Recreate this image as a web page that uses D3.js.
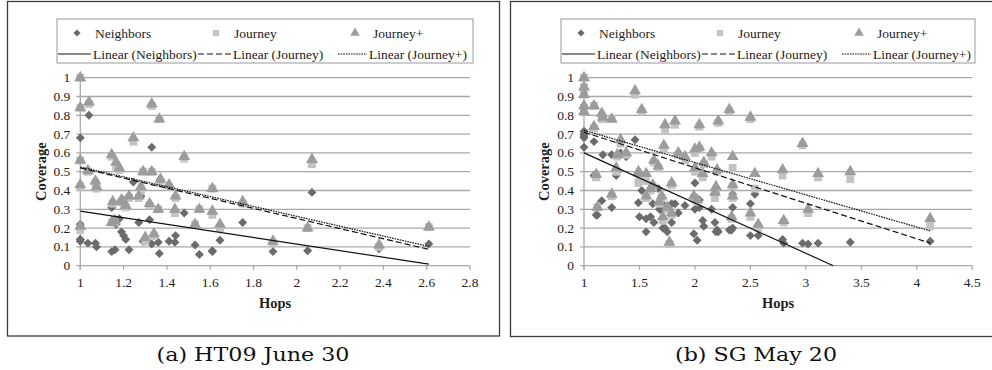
<!DOCTYPE html>
<html>
<head>
<meta charset="utf-8">
<script src="https://cdn.jsdelivr.net/npm/d3@7"></script>
<style>
  body { margin: 0; background: #fff; }
  svg { display: block; }
  svg text { font-family: "Liberation Serif", "Times New Roman", Times, serif; fill: #222; }
  svg text.caption { font-family: "DejaVu Serif", "Liberation Serif", serif; fill: #111; }
</style>
</head>
<body>
<svg id="chart" width="992" height="370"></svg>
<script>
// ----- data -----
const seriesNames = ["Neighbors", "Journey", "Journey+"];
const trendNames = ["Linear (Neighbors)", "Linear (Journey)", "Linear (Journey+)"];
const yTickLabels = ["0", "0.1", "0.2", "0.3", "0.4", "0.5", "0.6", "0.7", "0.8", "0.9", "1"];

// (a) HT09 June 30
const leftXTicks = ["1", "1.2", "1.4", "1.6", "1.8", "2", "2.2", "2.4", "2.6", "2.8"];
const leftHops =         [1.00, 1.00, 1.00, 1.00, 1.00, 1.035, 1.04, 1.07, 1.075, 1.145, 1.145, 1.15, 1.16, 1.165, 1.18, 1.19, 1.20, 1.21, 1.225, 1.245, 1.27, 1.28, 1.29, 1.30, 1.32, 1.33, 1.33, 1.34, 1.36, 1.365, 1.37, 1.41, 1.437, 1.44, 1.48, 1.53, 1.55, 1.61, 1.61, 1.645, 1.75, 1.89, 2.05, 2.07, 2.38, 2.61];
const leftNeighbors =    [0.68, 0.22, 0.14, 0.14, 0.13, 0.12, 0.80, 0.12, 0.10, 0.31, 0.075, 0.24, 0.085, 0.22, 0.25, 0.18, 0.16, 0.14, 0.085, 0.445, 0.23, 0.37, 0.13, 0.13, 0.245, 0.63, 0.115, 0.16, 0.125, 0.065, 0.46, 0.13, 0.125, 0.16, 0.28, 0.11, 0.06, 0.075, 0.08, 0.135, 0.23, 0.075, 0.08, 0.39, 0.09, 0.115];
const leftJourney =      [1.00, 0.84, 0.56, 0.42, 0.19, 0.50, 0.86, 0.44, 0.41, 0.58, 0.23, 0.33, 0.23, 0.53, 0.51, 0.34, 0.33, 0.31, 0.36, 0.66, 0.36, 0.40, 0.50, 0.13, 0.32, 0.85, 0.50, 0.16, 0.30, 0.78, 0.44, 0.42, 0.28, 0.36, 0.57, 0.22, 0.30, 0.41, 0.27, 0.20, 0.33, 0.12, 0.20, 0.54, 0.10, 0.205];
const leftJourneyPlus =  [1.00, 0.84, 0.56, 0.43, 0.21, 0.505, 0.87, 0.45, 0.42, 0.59, 0.23, 0.34, 0.24, 0.55, 0.52, 0.35, 0.34, 0.32, 0.37, 0.68, 0.37, 0.42, 0.50, 0.15, 0.33, 0.86, 0.50, 0.17, 0.30, 0.78, 0.46, 0.43, 0.30, 0.37, 0.58, 0.22, 0.30, 0.41, 0.29, 0.22, 0.34, 0.13, 0.20, 0.565, 0.11, 0.205];
const leftTrendSlope =     [-0.175, -0.269, -0.2625];
const leftTrendIntercept = [0.465, 0.789, 0.7875];

// (b) SG May 20
const rightXTicks = ["1", "1.5", "2", "2.5", "3", "3.5", "4", "4.5"];
const rightHops =        [1.00, 1.00, 1.00, 1.00, 1.00, 1.09, 1.09, 1.11, 1.12, 1.16, 1.17, 1.25, 1.25, 1.29, 1.30, 1.33, 1.38, 1.46, 1.49, 1.50, 1.52, 1.56, 1.56, 1.60, 1.62, 1.63, 1.67, 1.68, 1.70, 1.71, 1.72, 1.73, 1.75, 1.77, 1.79, 1.79, 1.82, 1.85, 1.91, 1.99, 2.00, 2.00, 2.02, 2.04, 2.04, 2.07, 2.08, 2.15, 2.18, 2.19, 2.20, 2.21, 2.31, 2.33, 2.34, 2.34, 2.34, 2.50, 2.50, 2.54, 2.57, 2.79, 2.80, 2.97, 3.02, 3.11, 3.40, 4.12];
const rightNeighbors =   [0.715, 0.69, 0.63, 0.70, 0.68, 0.66, 0.48, 0.27, 0.27, 0.345, 0.59, 0.31, 0.59, 0.48, 0.50, 0.60, 0.58, 0.67, 0.335, 0.26, 0.40, 0.18, 0.25, 0.26, 0.33, 0.23, 0.41, 0.30, 0.295, 0.20, 0.32, 0.20, 0.18, 0.115, 0.23, 0.33, 0.33, 0.28, 0.32, 0.17, 0.30, 0.44, 0.135, 0.31, 0.35, 0.24, 0.21, 0.30, 0.23, 0.18, 0.19, 0.18, 0.19, 0.19, 0.31, 0.20, 0.38, 0.16, 0.33, 0.38, 0.16, 0.14, 0.12, 0.12, 0.115, 0.12, 0.125, 0.13];
const rightJourney =     [1.00, 0.95, 0.91, 0.84, 0.82, 0.85, 0.73, 0.47, 0.31, 0.78, 0.78, 0.37, 0.78, 0.50, 0.58, 0.65, 0.59, 0.91, 0.44, 0.45, 0.82, 0.36, 0.45, 0.40, 0.42, 0.55, 0.52, 0.33, 0.36, 0.24, 0.62, 0.72, 0.30, 0.115, 0.27, 0.43, 0.75, 0.59, 0.56, 0.36, 0.60, 0.50, 0.34, 0.74, 0.62, 0.47, 0.54, 0.58, 0.36, 0.40, 0.50, 0.76, 0.82, 0.25, 0.42, 0.36, 0.52, 0.26, 0.78, 0.41, 0.20, 0.48, 0.23, 0.64, 0.28, 0.47, 0.46, 0.21];
const rightJourneyPlus = [1.00, 0.95, 0.91, 0.85, 0.82, 0.85, 0.74, 0.485, 0.31, 0.81, 0.79, 0.38, 0.78, 0.52, 0.59, 0.67, 0.60, 0.93, 0.50, 0.49, 0.83, 0.37, 0.49, 0.41, 0.43, 0.56, 0.53, 0.34, 0.37, 0.26, 0.64, 0.75, 0.31, 0.125, 0.28, 0.44, 0.77, 0.60, 0.58, 0.37, 0.62, 0.52, 0.35, 0.75, 0.63, 0.49, 0.55, 0.60, 0.39, 0.42, 0.51, 0.77, 0.83, 0.26, 0.43, 0.37, 0.58, 0.28, 0.79, 0.49, 0.22, 0.51, 0.24, 0.65, 0.30, 0.49, 0.50, 0.25];
const rightTrendSlope =     [-0.267, -0.189, -0.1715];
const rightTrendIntercept = [0.867, 0.899, 0.8915];

// ----- styling -----
const markerFill = ["#6b6b6b", "#c3c3c3", "#9c9c9c"];
const markerType = [d3.symbolSquare, d3.symbolSquare, d3.symbolTriangle];
const markerSize = [40, 62, 62];
const legendMarkerSize = [26, 40, 40];
const trendDash = [null, "6,3", "1.6,1"];

const svg = d3.select("#chart");

function drawPanel(p) {
  const g = svg.append("g");

  // outer frame
  g.append("rect")
    .attr("x", p.frame[0]).attr("y", p.frame[1])
    .attr("width", p.frame[2]).attr("height", p.frame[3])
    .attr("fill", "none").attr("stroke", "#3c3c3c").attr("stroke-width", 1.3);

  const x = d3.scaleLinear().domain(p.xDomain).range(p.xRange);
  const y = d3.scaleLinear().domain([0, 1]).range([265.7, 77.7]);

  // horizontal gridlines + y labels
  yTickLabels.forEach(t => {
    const v = +t;
    g.append("line")
      .attr("x1", p.xRange[0] - 4).attr("x2", p.xRange[1])
      .attr("y1", y(v)).attr("y2", y(v))
      .attr("stroke", "#a9a9a9").attr("stroke-width", 1.3);
    g.append("text")
      .attr("x", p.xRange[0] - 10).attr("y", y(v) + 4.5)
      .attr("text-anchor", "end")
      .attr("font-size", 13.5)
      .text(t);
  });

  // vertical axis line
  g.append("line")
    .attr("x1", x(p.xDomain[0])).attr("x2", x(p.xDomain[0]))
    .attr("y1", y(1)).attr("y2", y(0) + 4)
    .attr("stroke", "#a9a9a9").attr("stroke-width", 1.3);

  // x ticks and labels
  p.xTicks.forEach(t => {
    const v = +t;
    g.append("line")
      .attr("x1", x(v)).attr("x2", x(v))
      .attr("y1", y(0)).attr("y2", y(0) + 4)
      .attr("stroke", "#a9a9a9").attr("stroke-width", 1.3);
    g.append("text")
      .attr("x", x(v)).attr("y", y(0) + 21)
      .attr("text-anchor", "middle")
      .attr("font-size", 13.5)
      .text(t);
  });

  // axis titles
  g.append("text")
    .attr("x", (p.xRange[0] + p.xRange[1]) / 2).attr("y", 308)
    .attr("text-anchor", "middle")
    .attr("font-size", 14.5).attr("font-weight", "bold")
    .text("Hops");
  g.append("text")
    .attr("transform", `translate(${p.yTitleX}, 171.7) rotate(-90)`)
    .attr("text-anchor", "middle")
    .attr("font-size", 14.5).attr("font-weight", "bold")
    .text("Coverage");

  // markers
  p.series.forEach((vals, s) => {
    const sym = d3.symbol().type(markerType[s]).size(markerSize[s]);
    g.append("g").selectAll("path")
      .data(vals.map((v, i) => ({ h: p.hops[i], c: v })))
      .enter()
      .append("path")
      .attr("d", sym)
      .attr("transform", d => `translate(${x(d.h)}, ${y(d.c)})` + (s === 0 ? " rotate(45)" : ""))
      .attr("fill", markerFill[s]);
  });

  // linear trendlines
  const hMin = d3.min(p.hops), hMax = d3.max(p.hops);
  p.slope.forEach((m, s) => {
    const b = p.intercept[s];
    let end = hMax;
    if (m * end + b < 0) end = -b / m;
    g.append("line")
      .attr("x1", x(hMin)).attr("y1", y(m * hMin + b))
      .attr("x2", x(end)).attr("y2", y(m * end + b))
      .attr("stroke", "#111").attr("stroke-width", 1.2)
      .attr("stroke-dasharray", trendDash[s]);
  });

  // legend
  const L = p.legend[0];
  g.append("rect")
    .attr("x", L).attr("y", p.legend[1])
    .attr("width", p.legend[2]).attr("height", p.legend[3])
    .attr("fill", "#fff").attr("stroke", "#9a9a9a").attr("stroke-width", 1);

  const itemX = [0, 139, 278];
  seriesNames.forEach((name, s) => {
    const sym = d3.symbol().type(markerType[s]).size(legendMarkerSize[s]);
    g.append("path")
      .attr("d", sym)
      .attr("transform", `translate(${L + 20 + itemX[s]}, 33)` + (s === 0 ? " rotate(45)" : ""))
      .attr("fill", markerFill[s]);
    g.append("text")
      .attr("x", L + 38 + itemX[s]).attr("y", 37.5)
      .attr("font-size", 13.5)
      .text(name);
  });

  const lineX = [[1, 34], [141, 175], [281, 310]];
  const labelX = [36, 176, 312];
  trendNames.forEach((name, s) => {
    g.append("line")
      .attr("x1", L + lineX[s][0]).attr("x2", L + lineX[s][1])
      .attr("y1", 54).attr("y2", 54)
      .attr("stroke", "#111").attr("stroke-width", 1.2)
      .attr("stroke-dasharray", trendDash[s]);
    g.append("text")
      .attr("x", L + labelX[s]).attr("y", 58.5)
      .attr("font-size", 13.5)
      .text(name);
  });

  // caption
  g.append("text")
    .attr("class", "caption")
    .attr("x", p.captionX).attr("y", 361)
    .attr("text-anchor", "middle")
    .attr("textLength", p.captionW).attr("lengthAdjust", "spacingAndGlyphs")
    .attr("font-size", 18)
    .text(p.caption);
}

drawPanel({
  frame: [7.5, 1.5, 492, 334.5],
  xDomain: [1, 2.8], xRange: [80.3, 470], xTicks: leftXTicks,
  yTitleX: 46,
  hops: leftHops, series: [leftNeighbors, leftJourney, leftJourneyPlus],
  slope: leftTrendSlope, intercept: leftTrendIntercept,
  legend: [57, 19, 416, 44],
  caption: "(a) HT09 June 30", captionX: 253, captionW: 193
});

drawPanel({
  frame: [510.5, 1.5, 492, 335],
  xDomain: [1, 4.5], xRange: [584, 972.3], xTicks: rightXTicks,
  yTitleX: 549,
  hops: rightHops, series: [rightNeighbors, rightJourney, rightJourneyPlus],
  slope: rightTrendSlope, intercept: rightTrendIntercept,
  legend: [561, 19, 414, 44],
  caption: "(b) SG May 20", captionX: 756, captionW: 162
});
</script>
</body>
</html>
